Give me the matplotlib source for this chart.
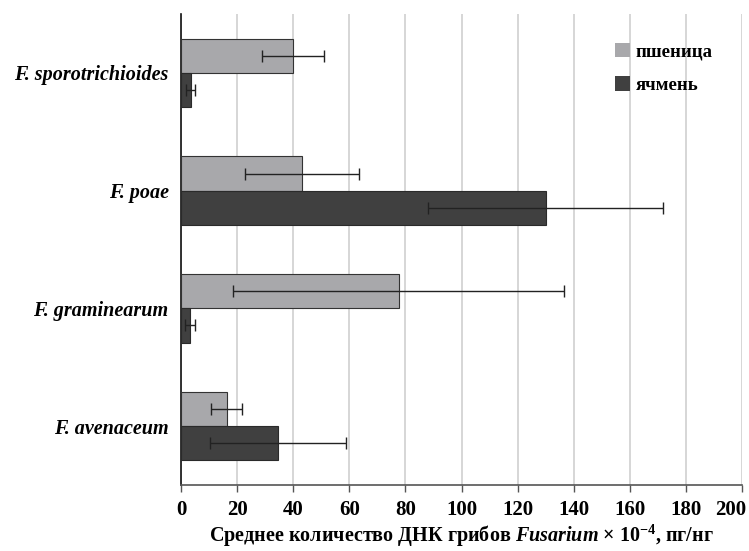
import matplotlib.pyplot as plt
import matplotlib.transforms as mtransforms
import numpy as np

plt.rcParams['font.family'] = ['Liberation Serif', 'DejaVu Serif']
plt.rcParams['mathtext.fontset'] = 'custom'
plt.rcParams['mathtext.it'] = 'Liberation Serif:italic:bold'
plt.rcParams['mathtext.rm'] = 'Liberation Serif:bold'
plt.rcParams['mathtext.bf'] = 'Liberation Serif:bold'
plt.rcParams['mathtext.default'] = 'rm'

categories = ["F. sporotrichioides", "F. poae", "F. graminearum", "F. avenaceum"]
wheat = [40.0, 43.0, 77.7, 16.3]
wheat_err = [11.0, 20.3, 59.0, 5.5]
barley = [3.4, 130.0, 3.2, 34.5]
barley_err = [1.7, 42.0, 1.9, 24.3]
series_names = ["пшеница", "ячмень"]
xticks = [0, 20, 40, 60, 80, 100, 120, 140, 160, 180, 200]

fig = plt.figure(figsize=(7.49, 5.51), dpi=100)
ax = fig.add_axes([0.2417, 0.1198, 0.749, 0.8548])

y = np.arange(len(categories))
h = 0.29
ekw = dict(ecolor='#222222', elinewidth=1.0, capsize=4, capthick=1.0)
ax.barh(y - h/2, wheat, height=h, color='#a8a8ab', edgecolor='#333333', linewidth=0.8,
        xerr=wheat_err, error_kw=ekw, label=series_names[0], zorder=3)
ax.barh(y + h/2, barley, height=h, color='#404040', edgecolor='#2a2a2a', linewidth=0.8,
        xerr=barley_err, error_kw=ekw, label=series_names[1], zorder=3)

ax.set_ylim(3.5, -0.5)
ax.set_xlim(0, 200)
ax.set_xticks(xticks)
ax.set_xticklabels([str(t) for t in xticks], fontsize=15, fontweight='bold')
ax.set_yticks(y)
ax.set_yticklabels(categories, fontsize=14.5, fontweight='bold', fontstyle='italic')
ax.tick_params(axis='y', length=0, pad=9)
ax.tick_params(axis='x', length=5, width=1, color='#555555', pad=6)

last = ax.get_xticklabels()[-1]
last.set_transform(last.get_transform() + mtransforms.ScaledTranslation(-11/100, 0, fig.dpi_scale_trans))

ax.grid(axis='x', color='#d0d0d0', linewidth=1.2, zorder=0)
ax.set_axisbelow(True)
for s in ['top', 'right']:
    ax.spines[s].set_visible(False)
ax.spines['left'].set_color('#111111')
ax.spines['left'].set_linewidth(1.2)
ax.spines['bottom'].set_color('#555555')
ax.spines['bottom'].set_linewidth(1.2)

ax.set_xlabel(r"Среднее количество ДНК грибов $\it{Fusarium}$ × 10$^{-4}$, пг/нг",
              fontsize=14.5, fontweight='bold', labelpad=2)

leg = ax.legend(loc='upper right', bbox_to_anchor=(0.978, 0.975), frameon=False,
                prop={'size': 13.5, 'weight': 'bold'}, handlelength=0.8, handleheight=0.8,
                handletextpad=0.3, labelspacing=0.85)
for p in leg.get_patches():
    p.set_edgecolor('none')

fig.savefig('out.png', dpi=100)
